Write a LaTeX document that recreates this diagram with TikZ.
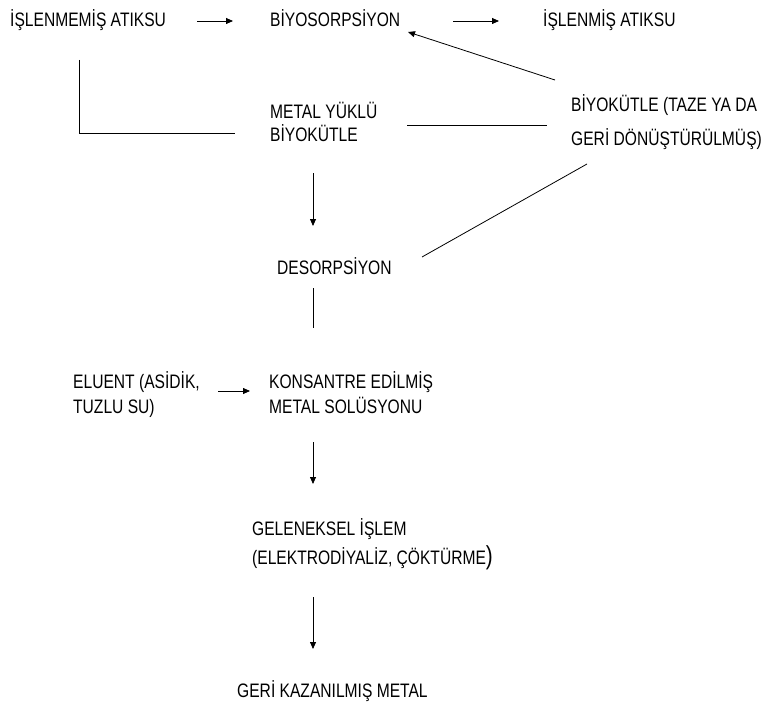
\documentclass[tikz,border=0pt]{standalone}
\usepackage{fontspec}
\setmainfont{Liberation Sans}[FakeStretch=0.8]
\usetikzlibrary{arrows.meta}
\begin{document}
\begin{tikzpicture}[x=1pt,y=-1pt,
  lbl/.style={anchor=base west,inner sep=0pt,align=left,font=\fontsize{19.5}{23}\selectfont},
  ln/.style={line width=0.8pt},
  arr/.style={line width=0.8pt,-{Triangle[length=7pt,width=6pt]}}]
\useasboundingbox (0,0) rectangle (763,706);
% multi-line nodes are anchored at the baseline of their last line
\node[lbl] (raw) at (10,27) {İŞLENMEMİŞ ATIKSU};
\node[lbl] (bio) at (270,27) {BİYOSORPSİYON};
\node[lbl] (treated) at (543,27) {İŞLENMİŞ ATIKSU};
\node[lbl] (biomass) at (571,146) {BİYOKÜTLE (TAZE YA DA\\[11pt]GERİ DÖNÜŞTÜRÜLMÜŞ)};
\node[lbl] (loaded) at (270,142) {METAL YÜKLÜ\\BİYOKÜTLE};
\node[lbl] (desorp) at (277,274) {DESORPSİYON};
\node[lbl] (eluent) at (73,413) {ELUENT (ASİDİK,\\[2pt]TUZLU SU)};
\node[lbl] (conc) at (269,413) {KONSANTRE EDİLMİŞ\\[2pt]METAL SOLÜSYONU};
\node[lbl] (conv) at (252,564) {GELENEKSEL İŞLEM\\[6pt](ELEKTRODİYALİZ, ÇÖKTÜRME{\fontsize{26}{26}\selectfont)}};
\node[lbl] (rec) at (237,697) {GERİ KAZANILMIŞ METAL};
% connector end points
\coordinate (a1s) at (197,21); \coordinate (a1e) at (233,21);
\coordinate (a2s) at (453,21); \coordinate (a2e) at (499,21);
\coordinate (b1) at (555,80); \coordinate (b2) at (408,32);
\coordinate (l1) at (407,125); \coordinate (l2) at (547,125);
\coordinate (c1) at (79,60); \coordinate (c2) at (79,133); \coordinate (c3) at (235,133);
\coordinate (d1) at (313,173); \coordinate (d2) at (313,226);
\coordinate (e1) at (422,257); \coordinate (e2) at (587,164);
\coordinate (f1) at (313,288); \coordinate (f2) at (313,328);
\coordinate (g1) at (218,391); \coordinate (g2) at (250,391);
\coordinate (h1) at (313,442); \coordinate (h2) at (313,484);
\coordinate (i1) at (313,597); \coordinate (i2) at (313,649);
\draw[arr] (a1s) -- (a1e);
\draw[arr] (a2s) -- (a2e);
\draw[arr] (b1) -- (b2);
\draw[ln] (l1) -- (l2);
\draw[ln] (c1) -- (c2) -- (c3);
\draw[arr] (d1) -- (d2);
\draw[ln] (e1) -- (e2);
\draw[ln] (f1) -- (f2);
\draw[arr] (g1) -- (g2);
\draw[arr] (h1) -- (h2);
\draw[arr] (i1) -- (i2);
\end{tikzpicture}
\end{document}
